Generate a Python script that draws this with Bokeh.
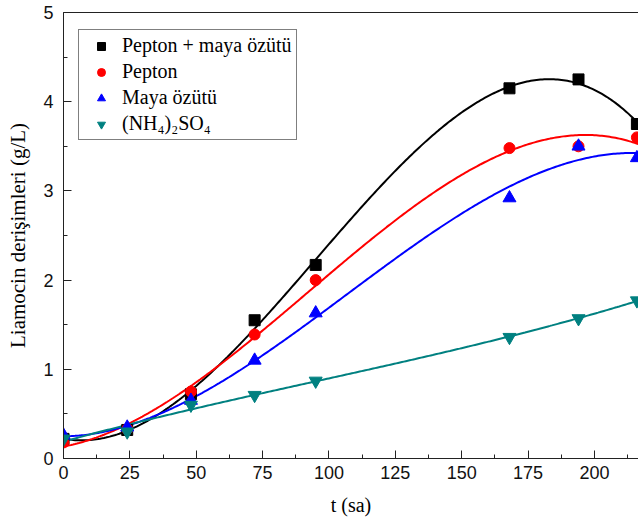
import numpy as np
from bokeh.plotting import figure
from bokeh.models import (Range1d, LinearAxis, Legend, LegendItem,
                          FixedTicker, ColumnDataSource)
from bokeh.embed import file_html
from bokeh.resources import INLINE

# Sampling times (h)
t = [0, 24, 48, 72, 95, 168, 194, 216]

# Liamocin concentration (g/L) for each nitrogen source
pepton_maya = [0.22, 0.32, 0.72, 1.55, 2.17, 4.15, 4.25, 3.75]
pepton = [0.18, 0.33, 0.75, 1.39, 2.00, 3.48, 3.50, 3.60]
maya = [0.26, 0.35, 0.65, 1.10, 1.63, 2.92, 3.50, 3.37]
amonyum = [0.22, 0.30, 0.60, 0.71, 0.87, 1.36, 1.57, 1.77]

labels = ["Pepton + maya özütü", "Pepton", "Maya özütü", "(NH\u2084)\u2082SO\u2084"]
colors = ["black", "#ff0000", "#0000ff", "#008080"]
markers = ["square", "circle", "triangle", "inverted_triangle"]
fit_degree = [3, 3, 3, 3]

p = figure(width=638, height=529, output_backend="svg", toolbar_location=None,
           x_range=Range1d(0, 216.6), y_range=Range1d(0, 5),
           min_border_left=63, min_border_right=0, min_border_top=12,
           min_border_bottom=71)
p.outline_line_color = None
p.xgrid.visible = False
p.ygrid.visible = False
p.background_fill_color = "white"

# polynomial trend curves fitted to each series
t_arr = np.array(t, dtype=float)
t_fine = np.linspace(0, 216.6, 300)
items = []
for ys, col, deg in zip([pepton_maya, pepton, maya, amonyum], colors, fit_degree):
    coef = np.polyfit(t_arr, np.array(ys), deg)
    p.line(t_fine, np.polyval(coef, t_fine), line_color=col, line_width=2)
for ys, col, mk, lab in zip([pepton_maya, pepton, maya, amonyum],
                            colors, markers, labels):
    src = ColumnDataSource(dict(x=t, y=ys))
    sz = 11 if mk in ("square", "circle") else 13
    r = p.scatter("x", "y", source=src, marker=mk, size=sz,
                  fill_color=col, line_color=col)
    items.append(LegendItem(label=lab, renderers=[r]))

legend = Legend(items=items, location=(15, 318),
                label_text_font="Liberation Serif", label_text_font_size="20px",
                label_text_color="black",
                glyph_height=20, glyph_width=36, label_height=20,
                spacing=3, padding=4, label_standoff=3, margin=0,
                border_line_color="black", border_line_width=1,
                background_fill_alpha=1.0)
p.add_layout(legend)

for ax in (p.xaxis[0], p.yaxis[0]):
    ax.axis_line_color = "#222222"
    ax.major_tick_line_color = "#222222"
    ax.minor_tick_line_color = "#222222"
    ax.major_tick_in = 8
    ax.major_tick_out = 0
    ax.minor_tick_in = 4
    ax.minor_tick_out = 0
    ax.major_label_text_font = "Liberation Sans"
    ax.major_label_text_font_size = "18px"
    ax.major_label_text_color = "#111111"
    ax.axis_label_text_font = "Liberation Serif"
    ax.axis_label_text_font_style = "normal"
    ax.axis_label_text_color = "black"

p.xaxis.ticker = FixedTicker(ticks=[0, 25, 50, 75, 100, 125, 150, 175, 200],
                             minor_ticks=[12.5 * i for i in range(18)])
p.yaxis.ticker = FixedTicker(ticks=[0, 1, 2, 3, 4, 5],
                             minor_ticks=[0.5 * i for i in range(11)])
p.xaxis.axis_label = "t (sa)"
p.yaxis.axis_label = "Liamocin derişimleri (g/L)"
p.xaxis.axis_label_text_font_size = "20px"
p.yaxis.axis_label_text_font_size = "21px"
p.xaxis.major_label_standoff = 7
p.xaxis.axis_label_standoff = 12
p.yaxis.major_label_standoff = 10
p.yaxis.axis_label_standoff = 10

# plain top border line
top = LinearAxis(ticker=FixedTicker(ticks=[]), major_tick_in=0, major_tick_out=0,
                 minor_tick_in=0, minor_tick_out=0, axis_line_color="#222222")
p.add_layout(top, "above")

open("out.html", "w").write(file_html(p, INLINE))
